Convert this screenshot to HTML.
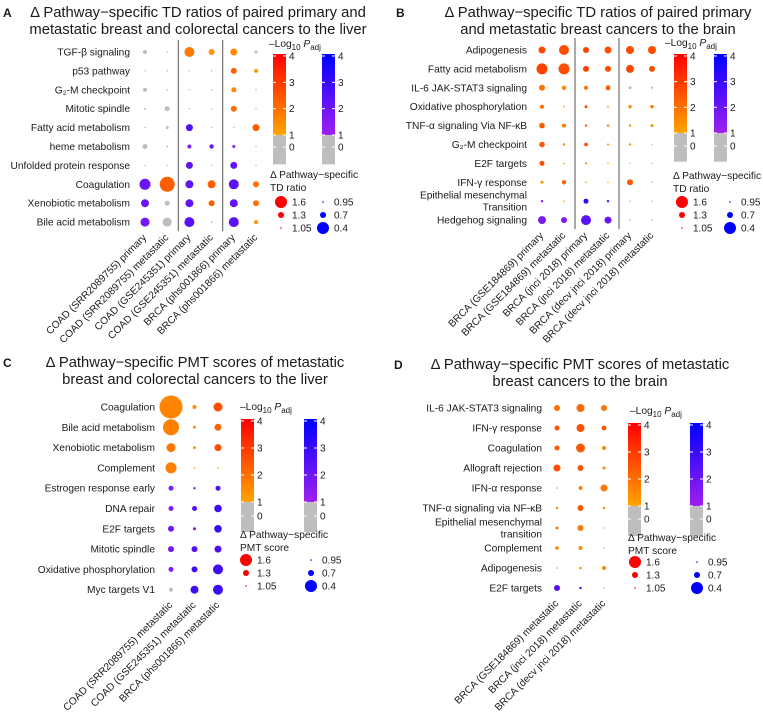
<!DOCTYPE html>
<html><head><meta charset="utf-8">
<style>
html,body{margin:0;padding:0;background:#fff;}
svg{display:block;font-family:"Liberation Sans",Arial,sans-serif;}
</style></head>
<body>
<svg id="fig" width="763" height="715" viewBox="0 0 763 715" xmlns="http://www.w3.org/2000/svg">
<defs>
<linearGradient id="gOr" x1="0" y1="1" x2="0" y2="0"><stop offset="0" stop-color="#ffa500"/><stop offset="1" stop-color="#ff0000"/></linearGradient>
<linearGradient id="gPu" x1="0" y1="1" x2="0" y2="0"><stop offset="0" stop-color="#a020f0"/><stop offset="1" stop-color="#0000ff"/></linearGradient>
</defs>
</svg>
<script>
// ---------- Panel A data ----------
const rowsA = ["TGF-β signaling","p53 pathway","G₂-M checkpoint","Mitotic spindle","Fatty acid metabolism","heme metabolism","Unfolded protein response","Coagulation","Xenobiotic metabolism","Bile acid metabolism"];
const colsA = ["COAD (SRR2089755) primary","COAD (SRR2089755) metastatic","COAD (GSE245351) primary","COAD (GSE245351) metastatic","BRCA (phs001866) primary","BRCA (phs001866) metastatic"];
const valA = [
 [1.2,1.05,1.5,1.3,1.35,1.15],
 [1.05,1.05,1.03,1.03,1.3,1.2],
 [1.2,1.05,1.05,1.02,1.25,1.02],
 [1.1,1.25,1.02,1.02,1.3,1.02],
 [1.02,1.15,0.65,1.02,1.02,1.35],
 [1.25,1.1,0.8,0.78,0.85,1.02],
 [1.02,1.02,0.65,1.02,0.65,1.02],
 [0.45,1.75,0.6,1.4,0.5,1.3],
 [0.6,1.25,0.6,1.3,0.6,1.3],
 [0.55,1.45,0.5,1.1,0.5,1.2]];
const pA = [
 [0.5,0.5,1.8,1.3,1.5,0.5],
 [0.5,0.5,0.5,0.5,2.2,1.3],
 [0.5,0.5,0.5,0.5,1.5,0.5],
 [0.5,0.5,0.5,0.5,2.0,0.5],
 [0.5,0.5,2.5,0.5,0.5,2.3],
 [0.5,0.5,1.5,2.0,1.5,0.5],
 [0.5,0.5,2.2,0.5,2.2,0.5],
 [2.0,2.3,2.2,2.3,2.3,2.0],
 [2.0,0.5,2.2,2.3,2.2,2.0],
 [1.8,0.5,2.3,0.5,2.3,1.3]];
// ---------- Panel B data ----------
const rowsB = ["Adipogenesis","Fatty acid metabolism","IL-6 JAK-STAT3 signaling","Oxidative phosphorylation","TNF-α signaling Via NF-κB","G₂-M checkpoint","E2F targets","IFN-γ response","Epithelial mesenchymal|Transition","Hedgehog signaling"];
const colsB = ["BRCA (GSE184869) primary","BRCA (GSE184869) metastatic","BRCA (jnci 2018) primary","BRCA (jnci 2018) metastatic","BRCA (decv jnci 2018) primary","BRCA (decv jnci 2018) metastatic"];
const valB = [
 [1.35,1.5,1.3,1.35,1.4,1.4],
 [1.55,1.55,1.3,1.3,1.4,1.3],
 [1.3,1.22,1.2,1.25,1.15,1.12],
 [1.2,1.07,1.15,1.08,1.17,1.17],
 [1.28,1.2,1.12,1.12,1.12,1.15],
 [1.28,1.12,1.18,1.1,1.12,1.05],
 [1.25,1.05,1.1,1.05,1.08,1.05],
 [1.15,1.22,1.02,1.02,1.3,1.08],
 [0.88,1.02,0.75,0.88,1.08,1.05],
 [0.6,0.7,0.5,0.65,1.08,1.07]];
const pB = [
 [2.7,2.6,2.8,2.6,2.6,2.6],
 [2.8,2.6,2.8,2.6,2.7,2.6],
 [1.9,1.5,2.0,2.2,0.5,0.5],
 [2.0,1.3,2.6,1.5,1.5,1.8],
 [2.4,1.7,2.3,1.7,1.4,1.4],
 [2.4,1.5,2.8,1.5,1.2,0.5],
 [2.6,1.2,1.8,1.2,0.5,0.5],
 [1.3,2.2,1.2,1.2,2.4,0.5],
 [1.5,1.1,3.2,2.5,0.5,0.5],
 [1.7,1.6,2.3,2.0,0.5,0.5]];
// ---------- Panel C data ----------
const rowsC = ["Coagulation","Bile acid metabolism","Xenobiotic metabolism","Complement","Estrogen response early","DNA repair","E2F targets","Mitotic spindle","Oxidative phosphorylation","Myc targets V1"];
const colsC = ["COAD (SRR2089755) metastatic","COAD (GSE245351) metastatic","BRCA (phs001866) metastatic"];
const valC = [
 [2.15,1.2,1.45],[1.8,1.15,1.35],[1.45,1.15,1.35],[1.55,1.02,1.03],[0.75,0.88,0.75],
 [0.75,0.75,0.62],[0.7,0.85,0.62],[0.7,0.7,0.65],[0.75,0.7,0.5],[0.8,0.6,0.5]];
const pC = [
 [1.6,1.4,2.6],[1.7,1.3,2.2],[1.8,1.3,2.6],[1.7,1.1,1.2],[1.5,1.5,2.5],
 [1.5,2.5,2.8],[1.8,1.8,2.9],[1.8,2.5,2.5],[1.5,2.8,2.8],[0.5,2.8,2.9]];
// ---------- Panel D data ----------
const rowsD = ["IL-6 JAK-STAT3 signaling","IFN-γ response","Coagulation","Allograft rejection","IFN-α response","TNF-α signaling via NF-κB","Epithelial mesenchymal|transition","Complement","Adipogenesis","E2F targets"];
const colsD = ["BRCA (GSE184869) metastatic","BRCA (jnci 2018) metastatic","BRCA (decv jnci 2018) metastatic"];
const valD = [
 [1.3,1.4,1.3],[1.25,1.4,1.25],[1.25,1.45,1.2],[1.35,1.3,1.15],[1.03,1.2,1.35],
 [1.12,1.3,1.12],[1.15,1.3,1.08],[1.18,1.2,1.08],[1.03,1.13,1.2],[0.7,0.87,1.03]];
const pD = [
 [2.0,2.1,1.9],[2.5,2.5,2.3],[2.4,2.4,1.6],[2.6,2.4,1.6],[1.2,1.6,1.8],
 [1.4,2.4,1.4],[1.8,1.8,0.5],[1.6,1.4,0.5],[1.1,1.3,1.5],[2.5,2.0,0.5]];
// size-legend values
const sizeUp = [1.6,1.3,1.05];
const sizeDown = [0.95,0.7,0.4];
const pTicks = [0,1,2,3,4];

const NS="http://www.w3.org/2000/svg";
const svg=document.getElementById('fig');
function mk(tag,attrs,parent){const e=document.createElementNS(NS,tag);for(const k in attrs)e.setAttribute(k,attrs[k]);(parent||svg).appendChild(e);return e;}
function rScale(v){return Math.max(0.8,10*Math.abs(v-1));}
function lerp(a,b,t){return Math.round(a+(b-a)*t);}
function color(v,p){
  if(p<1) return '#bebebe';
  const t=Math.min(1,Math.max(0,(p-1)/3));
  if(v>=1) return `rgb(255,${lerp(165,0,t)},0)`;
  return `rgb(${lerp(160,0,t)},${lerp(32,0,t)},${lerp(240,255,t)})`;
}
function text(str,x,y,opt,parent){
  const t=mk('text',Object.assign({x:x,y:y,'font-size':10.2,fill:'#1a1a1a'},opt||{}),parent);
  t.textContent=str;return t;
}

function panel(cfg){
  const g=mk('g',{});
  
  
  const L=text(cfg.letter,cfg.letterX,cfg.titleY[0],{'font-size':12,'font-weight':'bold'},g);
  
  
  cfg.title.forEach((s,i)=>{
    const t=text(s,cfg.titleX,cfg.titleY[i],{'font-size':14.8,'text-anchor':'middle'},g);
    
    
  });
  const rows=cfg.rows, cols=cfg.cols;
  const yOf=i=>cfg.y0+i*cfg.dy, xOf=j=>cfg.x0+j*cfg.dx;
  (cfg.seps||[]).forEach(j=>{
    const xs=(xOf(j-1)+xOf(j))/2;
    const l=mk('line',{x1:xs,x2:xs,y1:yOf(0)-12,y2:yOf(rows.length-1)+9,stroke:'#555','stroke-width':1},g);
    
    
  });
  rows.forEach((r,i)=>{
    const parts=r.split('|');
    parts.forEach((s,k)=>{
      const yy=yOf(i)+3.5+(parts.length>1?(k-0.5)*12:0);
      const t=text(s,cfg.labelX,yy,{'text-anchor':'end'},g);
      
      
    });
  });
  cols.forEach((c,j)=>{
    const x=xOf(j)+2,y=yOf(rows.length-1)+16;
    const t=text(c,x,y,{'text-anchor':'end',transform:`rotate(-45 ${x} ${y})`},g);
    
    
  });
  cfg.vals.forEach((row,i)=>row.forEach((v,j)=>{
    const p=cfg.ps[i][j];
    const c=mk('circle',{cx:xOf(j),cy:yOf(i),r:rScale(v),fill:color(v,p)},g);
    
    
  }));
  const lg=cfg.leg;
  const tt=mk('text',{x:lg.titleX,y:lg.titleY,'font-size':10.2,fill:'#1a1a1a'},g);
  tt.innerHTML='–Log<tspan font-size="8" dy="3">10</tspan><tspan dy="-3"> </tspan><tspan font-style="italic">P</tspan><tspan font-size="8" dy="3">adj</tspan>';
  
  
  const yP=p=>lg.y4+(4-p)*(lg.y1-lg.y4)/3;
  [[lg.xo,'url(#gOr)'],[lg.xb,'url(#gPu)']].forEach(([bx,fill],k)=>{
    const bar=mk('rect',{x:bx,y:yP(4)-2,width:13,height:yP(1)-yP(4)+2,fill:fill},g);
    
    
    const gr=mk('rect',{x:bx,y:yP(1),width:13,height:yP(0)-yP(1)+3,fill:'#bebebe'},g);
    
    
    pTicks.forEach(p=>{
      const y=p===0?lg.y0:yP(p);
      mk('line',{x1:bx,x2:bx+3,y1:y,y2:y,stroke:'#fff','stroke-width':1},g);
      mk('line',{x1:bx+10,x2:bx+13,y1:y,y2:y,stroke:'#fff','stroke-width':1},g);
      const t=text(String(p),bx+16,y+3.5,{'font-size':10},g);
      
      
    });
  });
  const s=cfg.size;
  text('Δ Pathway−specific',s.x,s.y,{},g);
  text(cfg.sizeTitle2,s.x,s.y+13,{},g);
  sizeUp.forEach((v,k)=>{
    const y=s.ey+k*13;
    const c=mk('circle',{cx:s.cx1,cy:y,r:rScale(v),fill:'#ff0000'},g);
    
    
    text(String(v),s.cx1+11,y+3.5,{'font-size':10},g);
  });
  sizeDown.forEach((v,k)=>{
    const y=s.ey+k*13;
    const c=mk('circle',{cx:s.cx2,cy:y,r:rScale(v),fill:'#0000ff'},g);
    
    
    text(String(v),s.cx2+11,y+3.5,{'font-size':10},g);
  });
}

panel({name:'panel-a',letter:'A',letterX:3,titleX:198,titleY:[17,34],
 title:['Δ Pathway−specific TD ratios of paired primary and','metastatic breast and colorectal cancers to the liver'],
 rows:rowsA,cols:colsA,vals:valA,ps:pA,x0:145,dx:22.2,y0:52,dy:18.9,labelX:130,seps:[2,4],
 leg:{titleX:269,titleY:47,xo:273,xb:322,y4:56,y1:135,y0:147},
 size:{x:270,y:178,ey:202,cx1:281,cx2:323},sizeTitle2:'TD ratio'});
panel({name:'panel-b',letter:'B',letterX:396,titleX:598,titleY:[17,34],
 title:['Δ Pathway−specific TD ratios of paired primary','and metastatic breast cancers to the brain'],
 rows:rowsB,cols:colsB,vals:valB,ps:pB,x0:542,dx:22,y0:50,dy:18.9,labelX:527,seps:[2,4],
 leg:{titleX:665,titleY:46,xo:674,xb:714,y4:56,y1:133,y0:146},
 size:{x:673,y:179,ey:202,cx1:682,cx2:730},sizeTitle2:'TD ratio'});
panel({name:'panel-c',letter:'C',letterX:3,titleX:195,titleY:[367,384],
 title:['Δ Pathway−specific PMT scores of metastatic','breast and colorectal cancers to the liver'],
 rows:rowsC,cols:colsC,vals:valC,ps:pC,x0:171,dx:23.5,y0:407,dy:20.3,labelX:155,seps:[],
 leg:{titleX:240,titleY:410,xo:241,xb:304,y4:421,y1:502,y0:516},
 size:{x:240,y:538,ey:560,cx1:246,cx2:311},sizeTitle2:'PMT score'});
panel({name:'panel-d',letter:'D',letterX:394,titleX:580,titleY:[369,386],
 title:['Δ Pathway−specific PMT scores of metastatic','breast cancers to the brain'],
 rows:rowsD,cols:colsD,vals:valD,ps:pD,x0:557,dx:23.5,y0:408,dy:20,labelX:542,seps:[],
 leg:{titleX:630,titleY:414,xo:628,xb:690,y4:425,y1:506,y0:519},
 size:{x:628,y:541,ey:562,cx1:635,cx2:697},sizeTitle2:'PMT score'});
</script>
</body></html>
